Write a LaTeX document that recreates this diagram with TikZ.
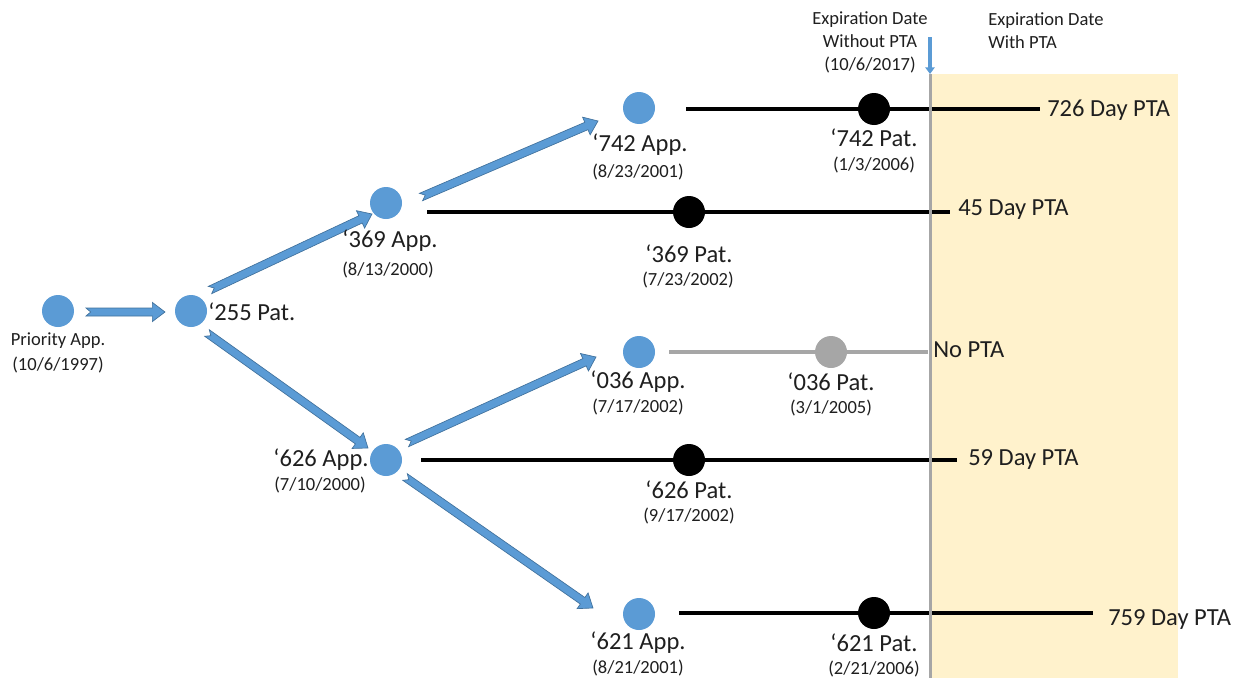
\documentclass[tikz,border=0pt]{standalone}
\usepackage{fontspec}
\setmainfont{Carlito}
\usetikzlibrary{calc,arrows.meta}
\definecolor{dotblue}{HTML}{5B9BD5}
\definecolor{arrowedge}{HTML}{41719C}
\definecolor{ptashade}{HTML}{FFF2CC}
\definecolor{linegray}{HTML}{A6A6A6}
\definecolor{ink}{HTML}{1F1F1F}

% Notched block arrow: #1 tail point, #2 tip point (each given relative to a node)
\newcommand\blockarrow[2]{%
  \coordinate (ba-s) at #1;
  \coordinate (ba-e) at #2;
  \coordinate (ba-h) at ($(ba-e)!9.5pt!(ba-s)$);
  \filldraw[blockarrow]
    ($(ba-s)!3pt!90:(ba-e)$) -- ($(ba-h)!3pt!90:(ba-e)$) -- ($(ba-h)!7.2pt!90:(ba-e)$)
    -- (ba-e)
    -- ($(ba-h)!7.2pt!-90:(ba-e)$) -- ($(ba-h)!3pt!-90:(ba-e)$) -- ($(ba-s)!3pt!-90:(ba-e)$)
    -- ($(ba-s)!3.5pt!(ba-e)$) -- cycle;
}

\begin{document}
\begin{tikzpicture}[x=0.75pt,y=-0.75pt,
  appdot/.style={circle, fill=dotblue, minimum size=24pt, inner sep=0pt},
  patdot/.style={circle, fill=black, minimum size=24pt, inner sep=0pt},
  olddot/.style={circle, fill=linegray, minimum size=24pt, inner sep=0pt},
  big/.style={font=\fontsize{18.4}{22}\selectfont, text=ink, inner sep=0pt},
  small/.style={font=\fontsize{13.9}{17.25}\selectfont, text=ink, inner sep=0pt, align=center},
  span/.style={line width=3pt, black},
  oldspan/.style={line width=3pt, linegray},
  blockarrow/.style={fill=dotblue, draw=arrowedge, line width=0.5pt, line join=miter},
]
\useasboundingbox (0,0) rectangle (1234,678);

% term extension zone
\fill[ptashade] (930,74) rectangle (1178,678);

% patent term lines
\coordinate (s742) at (686,109);  \coordinate (e742) at (1040,109);
\coordinate (s369) at (427,212);  \coordinate (e369) at (950,212);
\coordinate (s036) at (669,352);  \coordinate (e036) at (928,352);
\coordinate (s626) at (421,460);  \coordinate (e626) at (957,460);
\coordinate (s621) at (679,613);  \coordinate (e621) at (1093,613);
\draw[span] (s742) -- (e742);
\draw[span] (s369) -- (e369);
\draw[oldspan] (s036) -- (e036);
\draw[span] (s626) -- (e626);
\draw[span] (s621) -- (e621);

% expiration date without PTA
\coordinate (exptop) at (930,74);
\coordinate (expbot) at (930,678);
\draw[linegray, line width=2.25pt] (exptop) -- (expbot);
\coordinate (tick) at (930,37);
\draw[dotblue, line width=3pt, -{Triangle[width=7pt,length=5pt]}] (tick) -- (exptop);

% applications
\node[appdot] (pri)  at (58,311)  {};
\node[appdot] (p255) at (191,311) {};
\node[appdot] (a369) at (386,203) {};
\node[appdot] (a626) at (386,460) {};
\node[appdot] (a742) at (639,108) {};
\node[appdot] (a036) at (639,352) {};
\node[appdot] (a621) at (639,614) {};

% issued patents
\node[patdot] (t742) at (874,109) {};
\node[patdot] (t369) at (689,212) {};
\node[olddot] (t036) at (831,352) {};
\node[patdot] (t626) at (689,460) {};
\node[patdot] (t621) at (874,613) {};

% continuation arrows
\blockarrow{($(pri)+(28,1)$)}{($(p255)+(-26,1)$)}
\blockarrow{($(p255)+(19,-21)$)}{($(a369)+(-14,11)$)}
\blockarrow{($(a369)+(35,-6)$)}{($(a742)+(-41,13)$)}
\blockarrow{($(p255)+(16,22)$)}{($(a626)+(-18,-12)$)}
\blockarrow{($(a626)+(21,-17)$)}{($(a036)+(-43,5)$)}
\blockarrow{($(a626)+(19,17)$)}{($(a621)+(-46,-6)$)}

% labels
\node[small] (lpri) at (58,341) {Priority App.};
\node[small] (dpri) at (58,365) {(10/6/1997)};
\node[big, anchor=west] (l255) at (208,312) {‘255 Pat.};
\node[big] (l369a) at (390,241) {‘369 App.};
\node[small] (d369a) at (388,270) {(8/13/2000)};
\node[big] (l626a) at (321,460) {‘626 App.};
\node[small] (d626a) at (320,485) {(7/10/2000)};
\node[big] (l742a) at (640,145) {‘742 App.};
\node[small] (d742a) at (638,172) {(8/23/2001)};
\node[big] (l036a) at (638,382) {‘036 App.};
\node[small] (d036a) at (638,407) {(7/17/2002)};
\node[big] (l621a) at (638,643) {‘621 App.};
\node[small] (d621a) at (638,668) {(8/21/2001)};

\node[big] (l742p) at (874,138) {‘742 Pat.};
\node[small] (d742p) at (874,165) {(1/3/2006)};
\node[big] (l369p) at (689,254) {‘369 Pat.};
\node[small] (d369p) at (688,280) {(7/23/2002)};
\node[big] (l036p) at (831,382) {‘036 Pat.};
\node[small] (d036p) at (831,408) {(3/1/2005)};
\node[big] (l626p) at (689,490) {‘626 Pat.};
\node[small] (d626p) at (689,516) {(9/17/2002)};
\node[big] (l621p) at (874,643) {‘621 Pat.};
\node[small] (d621p) at (874,669) {(2/21/2006)};

% PTA outcomes
\node[big, anchor=west] (r742) at (1047,110) {726 Day PTA};
\node[big, anchor=west] (r369) at (958,210) {45 Day PTA};
\node[big, anchor=west] (r036) at (933,350) {No PTA};
\node[big, anchor=west] (r626) at (968,460) {59 Day PTA};
\node[big, anchor=west] (r621) at (1108,620) {759 Day PTA};

% column headings
\node[small] (hwithout) at (870,42) {Expiration Date\\Without PTA\\(10/6/2017)};
\node[small, align=left, anchor=west] (hwith) at (988,31) {Expiration Date\\With PTA};
\end{tikzpicture}
\end{document}
